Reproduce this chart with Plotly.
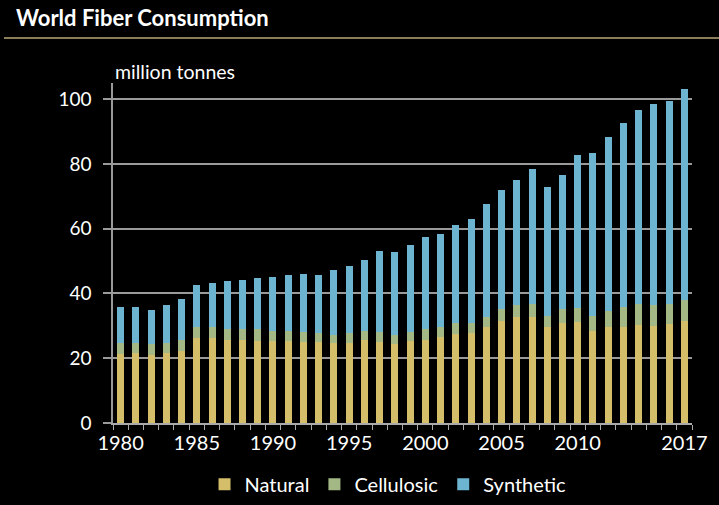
import plotly.graph_objects as go

years = list(range(1980, 2018))
natural = [21.3, 21.5, 21.0, 21.7, 22.3, 26.1, 26.1, 25.6, 25.6, 25.3,
           25.2, 25.2, 25.1, 25.1, 24.6, 24.8, 25.6, 25.1, 24.4, 25.4,
           25.6, 26.6, 27.5, 27.8, 29.7, 31.5, 32.8, 32.6, 29.7, 31.0,
           31.3, 28.5, 29.5, 29.7, 30.2, 29.9, 30.6, 31.6]
cellulosic = [3.4, 3.3, 3.4, 3.1, 3.3, 3.4, 3.4, 3.3, 3.3, 3.6,
              3.2, 3.2, 3.1, 2.6, 2.6, 3.1, 2.9, 3.1, 2.8, 2.8,
              3.3, 2.9, 3.3, 3.0, 3.1, 3.6, 3.6, 4.1, 3.4, 4.1,
              4.2, 4.6, 5.0, 6.2, 6.4, 6.5, 6.3, 6.5]
synthetic = [11.0, 11.0, 10.5, 11.6, 12.7, 13.1, 13.7, 14.9, 15.2, 15.9,
             16.7, 17.3, 17.8, 18.0, 20.0, 20.6, 21.8, 24.9, 25.6, 26.8,
             28.5, 28.8, 30.3, 32.2, 34.7, 36.8, 38.6, 41.7, 39.7, 41.4,
             47.2, 50.2, 53.8, 56.7, 60.0, 62.1, 62.5, 65.0]
label_years = [1980, 1985, 1990, 1995, 2000, 2005, 2010, 2017]
y_ticks = [0, 20, 40, 60, 80, 100]

FONT = "Lato"
colors = {"Natural": "#d4be6a", "Cellulosic": "#a3b884", "Synthetic": "#6cb4cf"}

fig = go.Figure()
for name, vals in [("Natural", natural), ("Cellulosic", cellulosic), ("Synthetic", synthetic)]:
    fig.add_trace(go.Bar(x=years, y=vals, name=name, marker=dict(color=colors[name], line=dict(width=0)),
                         xaxis="x", yaxis="y"))

# invisible trace to activate label axis
fig.add_trace(go.Scatter(x=[years[0]], y=[0], xaxis="x2", yaxis="y", mode="markers",
                         marker=dict(opacity=0), showlegend=False, hoverinfo="skip"))

boundaries = [y - 0.5 for y in years] + [years[-1] + 0.5]
xr = [years[0] - 0.5, years[-1] + 0.5]

fig.update_layout(
    width=719, height=505,
    paper_bgcolor="black", plot_bgcolor="black",
    barmode="stack", bargap=0.54,
    margin=dict(l=113, r=27, t=83, b=82, autoexpand=False),
    font=dict(family=FONT, color="white", size=19),
    showlegend=True,
    legend=dict(orientation="h", x=0.475, xanchor="center", y=-0.18, yanchor="middle",
                font=dict(size=20, color="white"), bgcolor="rgba(0,0,0,0)",
                traceorder="normal", itemwidth=30),
    xaxis=dict(range=xr, tickmode="array", tickvals=boundaries, showticklabels=False,
               ticks="outside", ticklen=5, tickcolor="#aaaaaa", tickwidth=1, automargin=False,
               showline=True, linecolor="#aaaaaa", linewidth=1.5, showgrid=False, zeroline=False),
    xaxis2=dict(range=xr, overlaying="x", side="bottom", tickmode="array", tickvals=label_years,
                ticktext=[str(y) for y in label_years], ticks="", showgrid=False, zeroline=False,
                automargin=False,
                showline=False, tickfont=dict(size=20, color="white"), ticklabelstandoff=6),
    yaxis=dict(range=[0, 105], tickmode="array", tickvals=y_ticks, showgrid=True, automargin=False,
               gridcolor="#9a9a9a", gridwidth=1.5, ticks="outside", ticklen=8, tickcolor="#9a9a9a",
               tickwidth=1.5, showline=True, linecolor="#9a9a9a", linewidth=1.5, zeroline=False,
               tickfont=dict(size=19, color="white"), ticklabelstandoff=8),
    annotations=[
        dict(text="<b>World Fiber Consumption</b>", xref="paper", yref="paper",
             x=-99/579, y=(423-17)/340, xanchor="left", yanchor="middle", showarrow=False,
             font=dict(size=22, color="white", family=FONT)),
        dict(text="million tonnes", xref="paper", yref="paper", x=0, y=(423-72)/340,
             xanchor="left", yanchor="middle", showarrow=False,
             font=dict(size=19.5, color="white", family=FONT)),
    ],
    shapes=[dict(type="line", xref="paper", yref="paper", x0=-109/579, x1=606/579,
                 y0=(423-38)/340, y1=(423-38)/340, line=dict(color="#b9a97a", width=1.5))],
)

fig.write_html("out.html", config={"displayModeBar": False},
               post_script="document.body.style.margin='0';document.body.style.background='black';")
